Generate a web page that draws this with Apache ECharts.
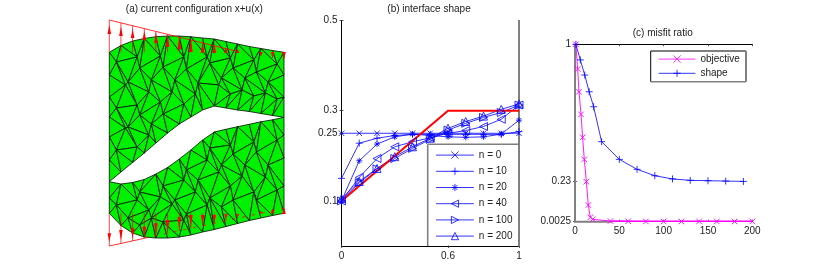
<!DOCTYPE html>
<html><head><meta charset="utf-8">
<style>html,body{margin:0;padding:0;background:#fff}#c{width:830px;height:277px}</style>
<script src="https://cdn.jsdelivr.net/npm/echarts@6/dist/echarts.min.js"></script>
</head><body><div id="c"></div>
<script>
// Panel (a): mesh columns, heights of nodes along each column
const meshColX = [0,11.65,23.3,35,46.6,58.3,70,81.6,93.3,105,116.6,128.3,140,151.6,163.3,174.7];
const upperCols = [
 [52.3,75,97,117,137,160,181.7],[45.5,62,85,108,128,150,172],[41,57,82,105,127,147,162.5],
 [38.5,68,92,115,135,153],[36.7,56,80,102,124,143],[36,67,92,114,133],[36,57,80,104,124],
 [36.8,69,94,117],[38,57,83,110],[39,63,85,106],[41.5,58,78,94,108],[44,68,90,110],
 [46.5,60,78,96,111.5],[48.5,72,93,113.5],[50.5,64,82,99,115.5],[52.3,75,97,117.3]];
const lowerCols = [
 [181.7,198,213.3],[184,205,225.5],[182.5,200,218,233],[179.5,192,210,225,237],[174,197,218,238],
 [167.5,186,204,222,238],[159,180,200,220,237],[150,170,192,214,235],[140,160,180,205,232],
 [132,148,172,198,229.5],[129.3,145,165,186,207,226.5],[126.7,154,176,200,223.5],[124.3,142,165,192,220.5],
 [121.8,152,177,200,218],[119.8,140,165,190,215.5],[117.3,135,158,186,213.3]];
const meshLean = [-4.5,4.5];
// [column, shaft start, shaft end, head tip, head base]
const topArrows = [[0,20,52.3,25,34],[1,22.9,52.3,26.7,36],[2,25.7,52.3,29,38],[3,28.6,52.3,31,40],
 [4,31.5,52.3,32,43],[5,34.3,52.3,34,47],[6,37.2,52.3,36.7,49.3],[7,40,52.3,39,52],[8,42.9,52.7,41.7,52.7],
 [9,45.8,53,43,53],[10,48.6,52.7,47.7,52.7],[11,51.5,53,49,53],[13,52,56,56,52],[14,52,58,58,52],[15,52,59,59,52]];
const bottomArrows = [[0,213.3,246,241.7,233.3],[1,213.3,243.5,240,230],[2,213.3,241,238.3,228.3],[3,213.3,238.3,236.7,226.7],
 [4,213.3,236,235,223.3],[5,213.3,233.3,233.3,220],[6,213.3,231,230,217.3],[7,213.3,228.3,226.7,215],[8,213.3,226,225,215],
 [9,213.3,223.3,222.7,215],[10,213.3,221,219.3,214.3],[11,213.3,218.3,217.3,214.3],[13,213.3,213.3,210.7,213.3],[14,213.3,211,208.3,213.3],[15,213.3,208.3,207.3,214]];
const envTopX = [0,128.3], envTopY = [20,51.5];
const envBottomSolidX = [0,35], envBottomSolidY = [246,238.3];
const envBottomDashX = [35,174.7], envBottomDashY = [238.3,208.3];

// Panel (b)
const shapeX = [0,0.1,0.2,0.3,0.4,0.5,0.6,0.7,0.8,0.9,1];
const n0   = [0.25,0.25,0.25,0.25,0.25,0.25,0.25,0.25,0.25,0.25,0.25];
const n10  = [0.15,0.228,0.239,0.245,0.2476,0.2476,0.2476,0.2476,0.2476,0.2476,0.2535];
const n20  = [0.1,0.189,0.226,0.242,0.248,0.245,0.242,0.241,0.242,0.248,0.279];
const n40  = [0.1,0.152,0.194,0.22,0.231,0.24,0.25,0.256,0.265,0.281,0.3125];
const n100 = [0.1,0.14,0.171,0.194,0.2165,0.2365,0.257,0.272,0.285,0.296,0.3125];
const n200 = [0.105,0.143,0.172,0.198,0.22,0.239,0.261,0.276,0.288,0.303,0.315];
const targetX = [0,0.6,1], targetY = [0.1,0.3,0.3];
const bXTicks = [0,0.6,1], bYTicks = [0.1,0.25,0.3,0.5];

// Panel (c)
const objX = [1,3,4.5,6.8,8.6,10.5,12.8,15,17.3,20,40,60,80,100,120,140,160,180,200];
const objY = [1,0.861,0.733,0.606,0.477,0.353,0.2275,0.096,0.027,0.016,0.006,0.005,0.004,0.004,0.004,0.004,0.004,0.004,0.004];
const shpX = [1,6,11,16,21,30,50,70,90,110,130,150,170,190];
const shpY = [1,0.912,0.827,0.733,0.649,0.4525,0.353,0.297,0.261,0.243,0.235,0.233,0.231,0.229];
const cXTicks = [0,50,100,150,200], cYTicks = [0.0025,0.23,1];

const BLUE='#0000ff', MAG='#ff00ff', RED='#ff0000', FONT='"Liberation Sans",Arial,sans-serif', TXT='#222';
const S={x:'path://M0 0L10 10M0 10L10 0',plus:'path://M5 0V10M0 5H10',
 star:'path://M5 0V10M0 5H10M1.5 1.5L8.5 8.5M1.5 8.5L8.5 1.5',
 left:'path://M0 5L10 0V10Z',right:'path://M10 5L0 0V10Z',up:'path://M5 0L10 10H0Z'};

function leanX(c,k,len,nCols){
  if(c===0||c===nCols-1||k===0||k===len-1) return meshColX[c];
  return meshColX[c]+meshLean[(c+k)%2];
}
function zipper(cols){
  const tris=[];
  for(let c=0;c<cols.length-1;c++){
    const a=cols[c],b=cols[c+1];
    const xa=k=>leanX(c,k,a.length,cols.length), xb=k=>leanX(c+1,k,b.length,cols.length);
    let i=0,j=0;
    while(i<a.length-1||j<b.length-1){
      const adv=j>=b.length-1?true:(i>=a.length-1?false:a[i+1]<=b[j+1]);
      if(adv){tris.push([xa(i),a[i],xa(i+1),a[i+1],xb(j),b[j]]);i++;}
      else{tris.push([xa(i),a[i],xb(j),b[j],xb(j+1),b[j+1]]);j++;}
    }
  }
  return tris;
}
const tris=zipper(upperCols).concat(zipper(lowerCols));
function arrowRows(rows){return rows.map(r=>[meshColX[r[0]],r[1],r[2],r[3],r[4]]);}

const axBase={axisLine:{lineStyle:{color:'#000',width:1}},splitLine:{show:false}};
function xAxisOf(grid,min,max,ticks,pos){return Object.assign({},axBase,{type:'value',gridIndex:grid,min,max,position:pos,
  axisTick:{show:true,inside:true,length:2,customValues:ticks,lineStyle:{color:'#333',width:.8}},
  axisLabel:pos==='bottom'?{show:true,customValues:ticks,margin:5,fontSize:10,fontFamily:FONT,color:TXT}:{show:false}});}
function yAxisOf(grid,min,max,ticks,pos){return Object.assign({},axBase,{type:'value',gridIndex:grid,min,max,position:pos,
  axisTick:{show:true,inside:true,length:2,customValues:ticks,lineStyle:{color:'#333',width:.8}},
  axisLabel:pos==='left'?{show:true,customValues:ticks,margin:4,fontSize:10,fontFamily:FONT,color:TXT}:{show:false}});}

function bSeries(name,data,sym,size){
  return {type:'line',name,xAxisIndex:0,yAxisIndex:0,data:shapeX.map((x,i)=>[x,data[i]]),clip:false,
    symbol:sym,symbolSize:size,showAllSymbol:true,
    lineStyle:{color:BLUE,width:.8},itemStyle:{color:'none',borderColor:BLUE,borderWidth:.8},emphasis:{disabled:true}};
}
function zip(a,b){return a.map((x,i)=>[x,b[i]]);}
function redLine(xs,ys,extra){return Object.assign({type:'line',xAxisIndex:4,yAxisIndex:4,data:zip(xs,ys),symbol:'none',clip:false,z:5,
   lineStyle:{color:RED,width:.8}},extra||{});}
function frame(x1,y1,x2,y2,color,width,z){return {type:'line',shape:{x1,y1,x2,y2},style:{stroke:color,lineWidth:width},z:z,silent:true};}
function titleOf(text,cx,top){return {text,left:cx,top,textAlign:'center',padding:0,textStyle:{fontSize:10,fontWeight:'normal',fontFamily:FONT,color:TXT}};}

const option={
  animation:false,backgroundColor:'#fff',
  title:[titleOf('(a) current configuration x+u(x)',194.3,4),titleOf('(b) interface shape',429,4),titleOf('(c) misfit ratio',662.7,28)],
  grid:[{left:341.5,top:20.5,width:177.5,height:225.5},{left:575,top:44.3,width:177.3,height:177.4},{left:109.3,top:0,width:174.7,height:277}],
  xAxis:[xAxisOf(0,0,1,bXTicks,'bottom'),xAxisOf(0,0,1,bXTicks,'top'),xAxisOf(1,0,200,cXTicks,'bottom'),xAxisOf(1,0,200,cXTicks,'top'),
    {type:'value',gridIndex:2,min:0,max:174.7,show:false}],
  yAxis:[yAxisOf(0,0,0.5,bYTicks,'left'),yAxisOf(0,0,0.5,bYTicks,'right'),yAxisOf(1,0.0025,1,cYTicks,'left'),yAxisOf(1,0.0025,1,cYTicks,'right'),
    {type:'value',gridIndex:2,min:0,max:277,inverse:true,show:false}],
  legend:[
   {left:435.7,top:149,orient:'vertical',padding:0,itemWidth:37.7,itemHeight:9,itemGap:4,
    lineStyle:{width:.8},itemStyle:{borderWidth:.8},
    data:['n = 0','n = 10','n = 20','n = 40','n = 100','n = 200'],selectedMode:false,textStyle:{fontSize:10,fontFamily:FONT,color:TXT}},
   {left:658.3,top:53,orient:'vertical',padding:0,itemWidth:36.7,itemHeight:9,itemGap:2,
    lineStyle:{width:.8},itemStyle:{borderWidth:.8},
    data:['objective','shape'],selectedMode:false,textStyle:{fontSize:10,fontFamily:FONT,color:TXT}}
  ],
  graphic:[
   {type:'rect',shape:{x:427.7,y:144.3,width:90,height:101.2},style:{fill:'#fff'},z:3,silent:true},
   {type:'rect',shape:{x:650.7,y:51,width:95.3,height:30.7},style:{fill:'#fff'},z:3,silent:true},
   frame(519,20,519,246.5,'#808080',2,1),
   frame(575,44,575,222,'#808080',2,1),
   frame(574,221.7,612,221.7,'#808080',2,1),
   frame(612,221.3,752.5,221.3,MAG,1.6,1),
   frame(427.7,144.3,519,144.3,'#808080',1.6,8),
   frame(427.7,144.3,427.7,246,'#808080',1.6,8),
   frame(650.7,51,746,51,'#000',1,8),
   frame(650.7,51,650.7,81.7,'#000',1,8),
   frame(746,51,746,81.7,'#808080',2,8),
   frame(650.7,81.7,746,81.7,'#808080',1.6,8)
  ],
  series:[
   {type:'custom',xAxisIndex:4,yAxisIndex:4,data:tris,clip:false,z:2,silent:true,
    encode:{x:[0,2,4],y:[1,3,5]},
    renderItem:(p,api)=>({type:'polygon',shape:{points:[api.coord([api.value(0),api.value(1)]),api.coord([api.value(2),api.value(3)]),api.coord([api.value(4),api.value(5)])]},
      style:{fill:'#00f000',stroke:'#0a1a0a',lineWidth:.85}})},
   {type:'custom',xAxisIndex:4,yAxisIndex:4,data:arrowRows(topArrows).concat(arrowRows(bottomArrows)),clip:false,z:4,silent:true,
    encode:{x:0,y:[1,2]},
    renderItem:(p,api)=>{
      const x=api.value(0),a=api.coord([x,api.value(1)]),b=api.coord([x,api.value(2)]),tip=api.coord([x,api.value(3)]),base=api.coord([x,api.value(4)]);
      return {type:'group',children:[
        {type:'line',shape:{x1:a[0],y1:a[1],x2:b[0],y2:b[1]},style:{stroke:RED,lineWidth:.9,opacity:.8}},
        {type:'polygon',shape:{points:[tip,[base[0]-1.8,base[1]],[base[0]+1.8,base[1]]]},style:{fill:RED}}]};
    }},
   redLine(envTopX,envTopY),
   redLine(envBottomSolidX,envBottomSolidY),
   redLine(envBottomDashX,envBottomDashY,{lineStyle:{color:RED,width:.8,type:[3,7]}}),
   bSeries('n = 0',n0,S.x,5.5),
   bSeries('n = 10',n10,S.plus,7),
   bSeries('n = 20',n20,S.star,6),
   bSeries('n = 40',n40,S.left,8),
   bSeries('n = 100',n100,S.right,8),
   bSeries('n = 200',n200,S.up,8),
   {type:'line',xAxisIndex:0,yAxisIndex:0,data:zip(targetX,targetY),symbol:'none',clip:false,z:3,lineStyle:{color:RED,width:2}},
   {type:'line',name:'objective',xAxisIndex:2,yAxisIndex:2,data:zip(objX,objY),clip:false,symbol:S.x,symbolSize:5.5,showAllSymbol:true,
     lineStyle:{color:MAG,width:.9},itemStyle:{color:'none',borderColor:MAG,borderWidth:.9}},
   {type:'line',name:'shape',xAxisIndex:2,yAxisIndex:2,data:zip(shpX,shpY),clip:false,symbol:S.plus,symbolSize:7,showAllSymbol:true,
     lineStyle:{color:BLUE,width:.8},itemStyle:{color:'none',borderColor:BLUE,borderWidth:.8}}
  ]
};
echarts.init(document.getElementById('c'),null,{renderer:'canvas'}).setOption(option);
</script></body></html>
